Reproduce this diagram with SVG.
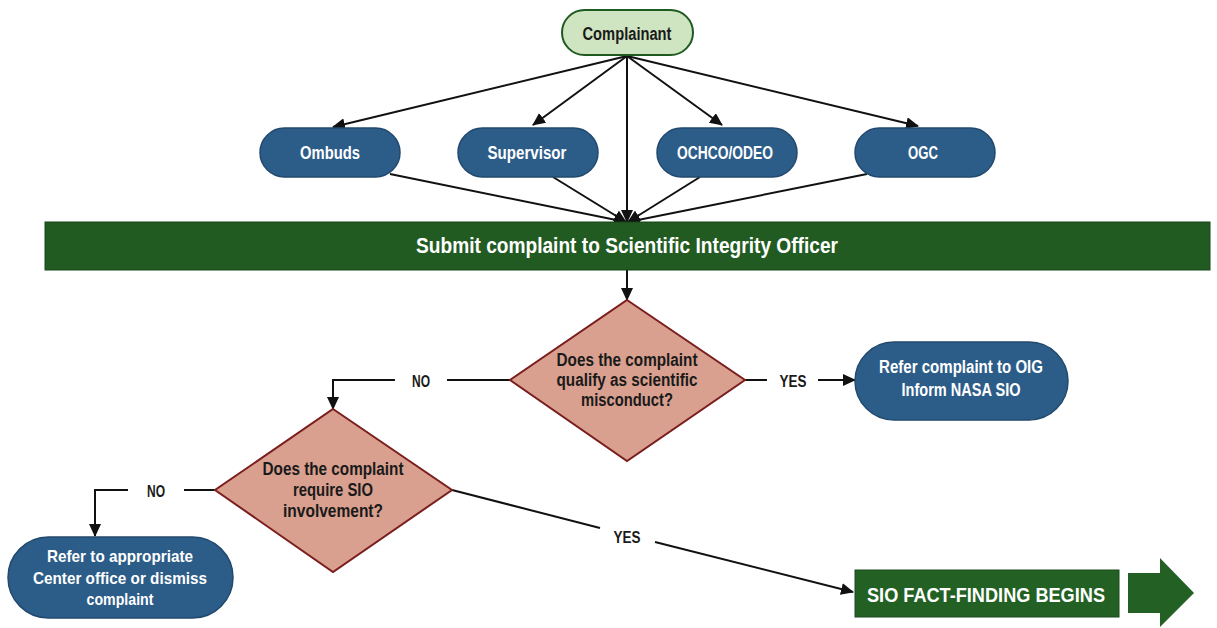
<svg xmlns="http://www.w3.org/2000/svg" width="1217" height="628" viewBox="0 0 1217 628">
  <style>
    .lbl { font-family: "Liberation Sans", Arial, sans-serif; font-weight: bold; text-anchor: middle; }
    .w { fill: #ffffff; }
    .k { fill: #1a1a1a; }
    .pill { fill: #2c5d89; stroke: #22496e; stroke-width: 1.5; }
    .dia { fill: #d9a08f; stroke: #7a1e1e; stroke-width: 2; }
    .con { fill: none; stroke: #111111; stroke-width: 2; }
  </style>
  <defs>
    <marker id="ah" markerUnits="userSpaceOnUse" markerWidth="14" markerHeight="12" refX="12" refY="6" orient="auto">
      <path d="M0,0 L13,6 L0,12 Z" fill="#111111"/>
    </marker>
  </defs>
  <rect width="1217" height="628" fill="#ffffff"/>

  <!-- connectors -->
  <g id="connectors">
    <line class="con" x1="627" y1="56" x2="333" y2="127" marker-end="url(#ah)"/>
    <line class="con" x1="627" y1="56" x2="533" y2="125" marker-end="url(#ah)"/>
    <line class="con" x1="627" y1="56" x2="627" y2="222" marker-end="url(#ah)"/>
    <line class="con" x1="627" y1="56" x2="722" y2="125" marker-end="url(#ah)"/>
    <line class="con" x1="627" y1="56" x2="918" y2="126" marker-end="url(#ah)"/>
    <line class="con" x1="390" y1="174" x2="626" y2="222" marker-end="url(#ah)"/>
    <line class="con" x1="553" y1="177" x2="626" y2="222" marker-end="url(#ah)"/>
    <line class="con" x1="700" y1="177" x2="628" y2="222" marker-end="url(#ah)"/>
    <line class="con" x1="867" y1="174" x2="628" y2="222" marker-end="url(#ah)"/>
    <line class="con" x1="627" y1="270" x2="627" y2="300" marker-end="url(#ah)"/>
    <!-- NO branch of first decision -->
    <line class="con" x1="510" y1="380" x2="447" y2="380"/>
    <polyline class="con" points="395,380 333,380 333,409" marker-end="url(#ah)"/>
    <!-- YES branch of first decision -->
    <line class="con" x1="745" y1="380" x2="767" y2="380"/>
    <line class="con" x1="818" y1="380" x2="855" y2="380" marker-end="url(#ah)"/>
    <!-- NO branch of second decision -->
    <line class="con" x1="215" y1="490" x2="184" y2="490"/>
    <polyline class="con" points="128,490 95,490 95,536" marker-end="url(#ah)"/>
    <!-- YES branch of second decision -->
    <line class="con" x1="452" y1="490" x2="600" y2="528"/>
    <line class="con" x1="655" y1="542" x2="853" y2="592" marker-end="url(#ah)"/>
    <text class="lbl k" x="421" y="387" font-size="17" textLength="18" lengthAdjust="spacingAndGlyphs">NO</text>
    <text class="lbl k" x="793" y="387" font-size="17" textLength="27" lengthAdjust="spacingAndGlyphs">YES</text>
    <text class="lbl k" x="156" y="497" font-size="17" textLength="18" lengthAdjust="spacingAndGlyphs">NO</text>
    <text class="lbl k" x="627" y="543" font-size="17" textLength="27" lengthAdjust="spacingAndGlyphs">YES</text>
  </g>

  <g id="complainant">
    <rect x="562" y="10" width="131" height="45" rx="22.5" fill="#cfe4c1" stroke="#1f5a20" stroke-width="2"/>
    <text class="lbl k" x="627" y="40" font-size="18" textLength="89" lengthAdjust="spacingAndGlyphs">Complainant</text>
  </g>

  <g id="ombuds">
    <rect class="pill" x="260" y="128" width="140" height="49" rx="24.5"/>
    <text class="lbl w" x="330" y="159" font-size="18" textLength="60" lengthAdjust="spacingAndGlyphs">Ombuds</text>
  </g>
  <g id="supervisor">
    <rect class="pill" x="458" y="128" width="140" height="49" rx="24.5"/>
    <text class="lbl w" x="527" y="159" font-size="18" textLength="79" lengthAdjust="spacingAndGlyphs">Supervisor</text>
  </g>
  <g id="ochco-odeo">
    <rect class="pill" x="657" y="128" width="140" height="49" rx="24.5"/>
    <text class="lbl w" x="725" y="159" font-size="18" textLength="96" lengthAdjust="spacingAndGlyphs">OCHCO/ODEO</text>
  </g>
  <g id="ogc">
    <rect class="pill" x="855" y="128" width="140" height="49" rx="24.5"/>
    <text class="lbl w" x="923" y="159" font-size="18" textLength="30" lengthAdjust="spacingAndGlyphs">OGC</text>
  </g>

  <g id="submit">
    <rect x="45" y="222" width="1165" height="48" fill="#215b22" stroke="#17451a" stroke-width="1"/>
    <text class="lbl w" x="627" y="253" font-size="22" textLength="422" lengthAdjust="spacingAndGlyphs">Submit complaint to Scientific Integrity Officer</text>
  </g>

  <g id="decision-misconduct">
    <polygon class="dia" points="627,300 745,380 627,461 510,380"/>
    <text class="lbl k" x="627" y="366" font-size="18" textLength="141" lengthAdjust="spacingAndGlyphs">Does the complaint</text>
    <text class="lbl k" x="627" y="386" font-size="18" textLength="141" lengthAdjust="spacingAndGlyphs">qualify as scientific</text>
    <text class="lbl k" x="627" y="406" font-size="18" textLength="92" lengthAdjust="spacingAndGlyphs">misconduct?</text>
  </g>

  <g id="refer-oig">
    <rect class="pill" x="855" y="342" width="213" height="78" rx="39"/>
    <text class="lbl w" x="961" y="373" font-size="18" textLength="164" lengthAdjust="spacingAndGlyphs">Refer complaint to OIG</text>
    <text class="lbl w" x="961" y="396" font-size="18" textLength="119" lengthAdjust="spacingAndGlyphs">Inform NASA SIO</text>
  </g>

  <g id="decision-sio">
    <polygon class="dia" points="333,409 452,490 333,572 215,490"/>
    <text class="lbl k" x="333" y="475" font-size="18" textLength="141" lengthAdjust="spacingAndGlyphs">Does the complaint</text>
    <text class="lbl k" x="333" y="496" font-size="18" textLength="80" lengthAdjust="spacingAndGlyphs">require SIO</text>
    <text class="lbl k" x="333" y="517" font-size="18" textLength="100" lengthAdjust="spacingAndGlyphs">involvement?</text>
  </g>

  <g id="refer-center">
    <rect class="pill" x="8" y="537" width="225" height="81" rx="40.5"/>
    <text class="lbl w" x="120" y="562" font-size="17" textLength="146" lengthAdjust="spacingAndGlyphs">Refer to appropriate</text>
    <text class="lbl w" x="120" y="584" font-size="17" textLength="174" lengthAdjust="spacingAndGlyphs">Center office or dismiss</text>
    <text class="lbl w" x="120" y="605" font-size="17" textLength="67" lengthAdjust="spacingAndGlyphs">complaint</text>
  </g>

  <g id="fact-finding">
    <rect x="855" y="570" width="264" height="47" fill="#236024" stroke="#1a4a1c" stroke-width="1"/>
    <text class="lbl w" x="986" y="602" font-size="21" textLength="238" lengthAdjust="spacingAndGlyphs">SIO FACT-FINDING BEGINS</text>
    <polygon points="1128,573 1160,573 1160,558 1194,593 1160,627 1160,613 1128,613" fill="#236024"/>
  </g>
</svg>
